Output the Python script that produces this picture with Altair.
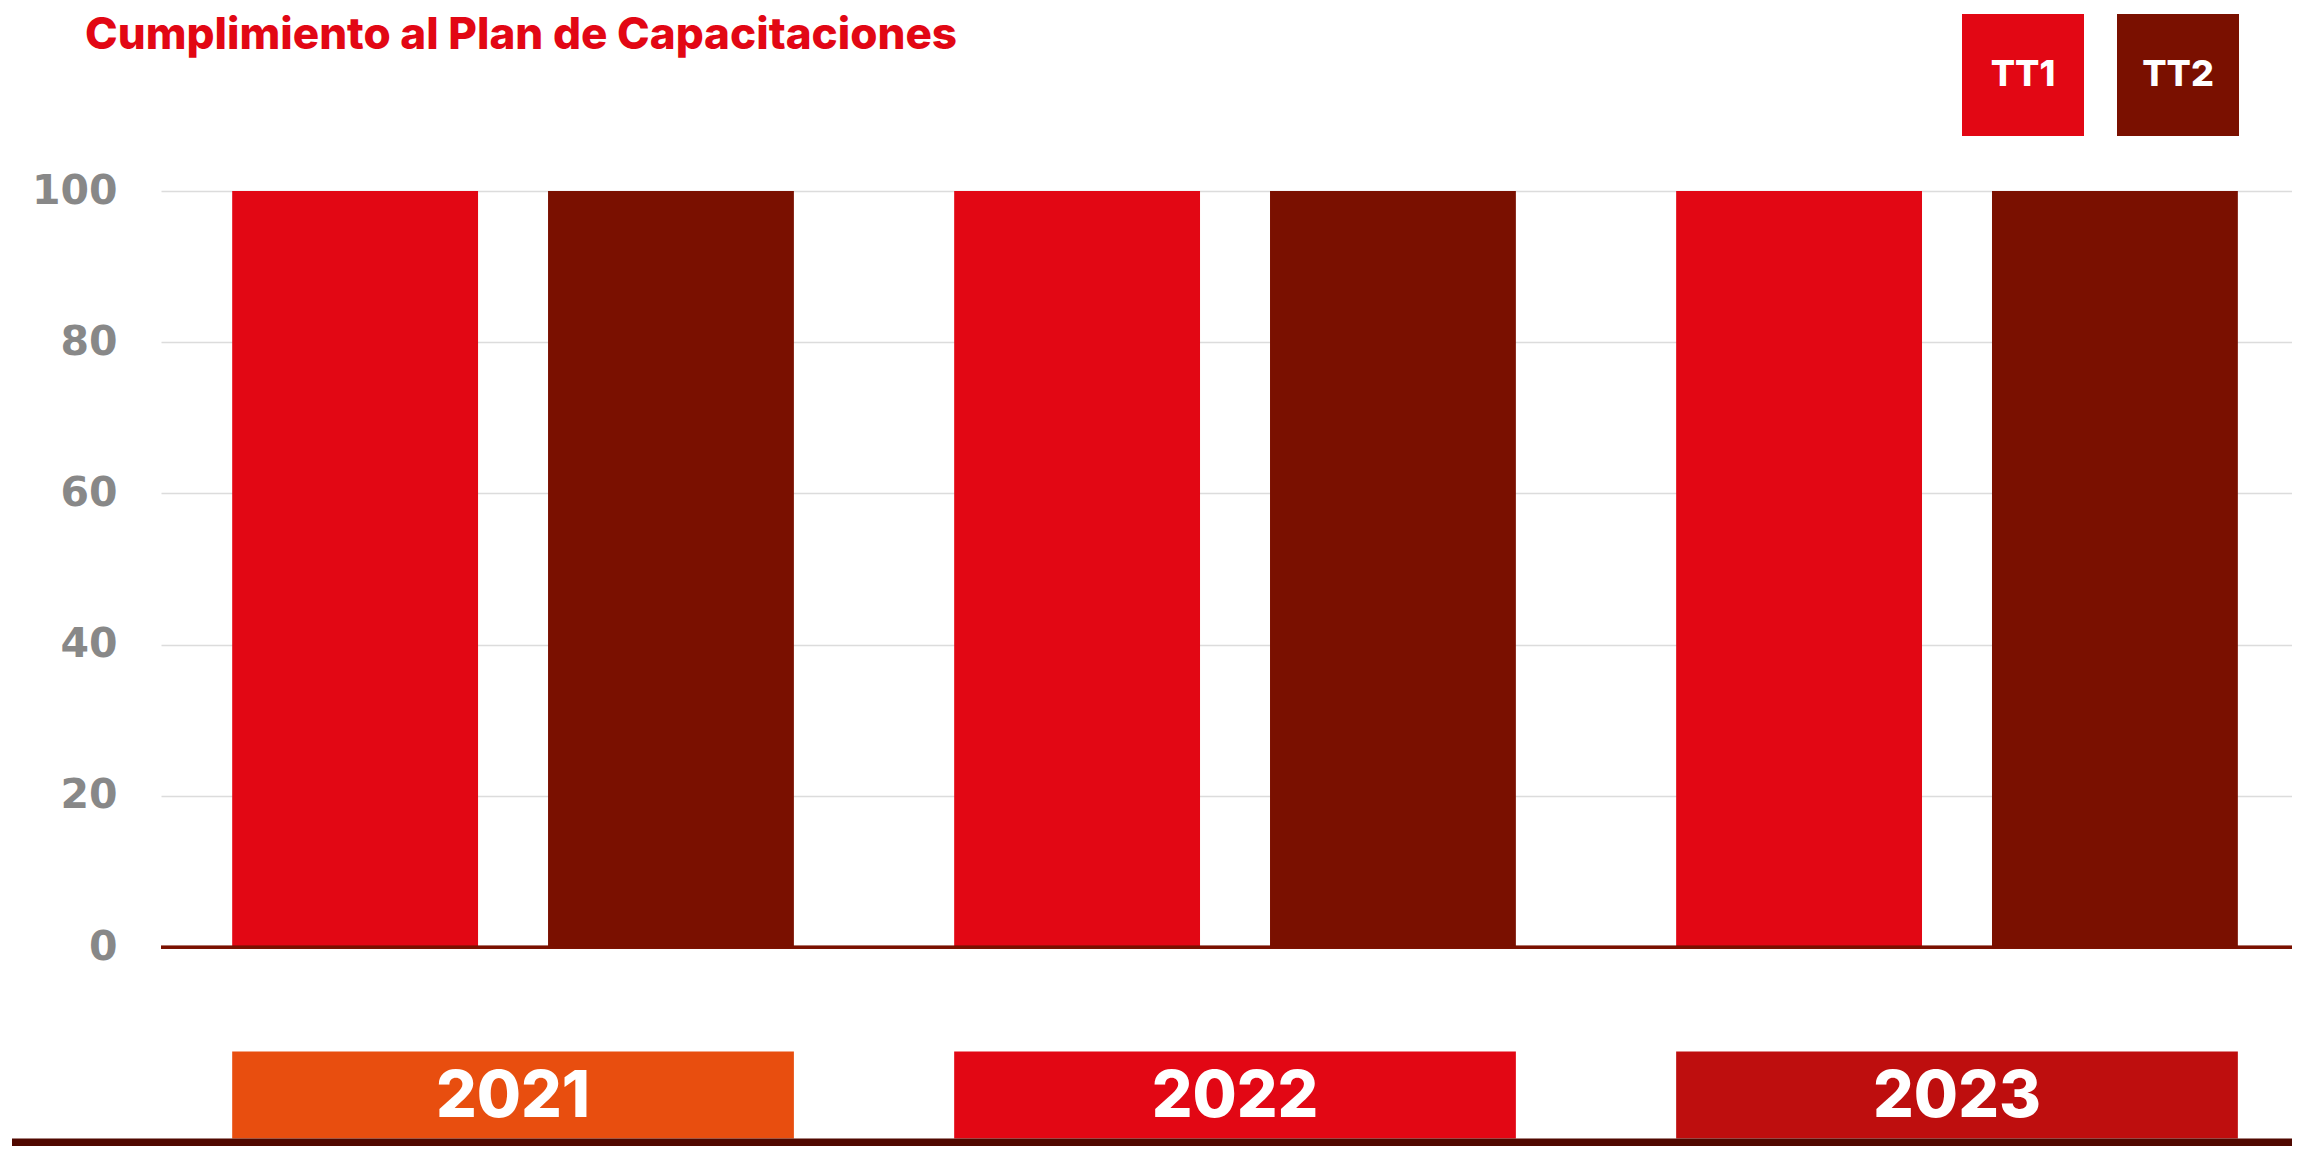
import altair as alt
import pandas as pd

# ---- data ----
years = ["2021", "2022", "2023"]
series = ["TT1", "TT2"]
tt1_values = [100, 100, 100]
tt2_values = [100, 100, 100]
series_colors = ["#e20714", "#7a1000"]
year_colors = ["#e84e0f", "#e20714", "#be0e0e"]
y_ticks = [0, 20, 40, 60, 80, 100]
title_text = "Cumplimiento al Plan de Capacitaciones"

rows = []
for i, y in enumerate(years):
    rows.append({"year": y, "series": "TT1", "value": tt1_values[i]})
    rows.append({"year": y, "series": "TT2", "value": tt2_values[i]})
bars_df = pd.DataFrame(rows)
years_df = pd.DataFrame({"year": years})

x_scale = alt.Scale(domain=years, paddingInner=0.222, paddingOuter=0.0868, align=0.568)
y_scale = alt.Scale(domain=[-26.3, 100], nice=False, zero=False)

bars = alt.Chart(bars_df).mark_bar().encode(
    x=alt.X("year:N", scale=x_scale, axis=None),
    xOffset=alt.XOffset("series:N", scale=alt.Scale(domain=series, paddingInner=0.2216, paddingOuter=0)),
    y=alt.Y("value:Q", scale=y_scale, axis=alt.Axis(
        values=y_ticks, grid=True, gridColor="#dcdcdc", gridWidth=1.5,
        domain=False, ticks=False, title=None,
        labelFont="DejaVu Sans", labelFontWeight="bold", labelFontSize=41,
        labelColor="#888888", labelPadding=44)),
    color=alt.Color("series:N", scale=alt.Scale(domain=series, range=series_colors),
        legend=alt.Legend(orient="none", legendX=1801, legendY=-177, direction="horizontal",
            title=None, symbolType="square", symbolSize=14884, symbolStrokeWidth=0,
            symbolOpacity=1, labelOffset={"expr": "-61"}, labelAlign="center", labelColor="white",
            labelFont="Inter", labelFontWeight=800, labelFontSize=36, columnPadding=33,
            padding=0, labelLimit=0)),
)

baseline = alt.Chart(years_df).mark_rule(color="#7a1000", strokeWidth=3).encode(
    y=alt.datum(0)
)

year_boxes = alt.Chart(years_df).mark_bar().encode(
    x=alt.X("year:N", scale=x_scale, axis=None),
    y=alt.datum(-13.8),
    y2=alt.datum(-25.3),
    fill=alt.Fill("year:N", scale=alt.Scale(domain=years, range=year_colors), legend=None),
)

year_text = alt.Chart(years_df).mark_text(
    color="white", font="Inter", fontWeight=800, fontSize=64, baseline="middle"
).encode(
    x=alt.X("year:N", scale=x_scale, axis=None),
    y=alt.datum(-19.9),
    text="year:N",
)

bottom_bar = alt.Chart(years_df.head(1)).mark_rect(color="#500800", clip=False).encode(
    x=alt.value(-149),
    x2=alt.value(2131),
    y=alt.datum(-25.3),
    y2=alt.datum(-26.3),
)

chart = alt.layer(year_boxes, year_text, bottom_bar, bars, baseline).properties(
    width=2131,
    height=955,
    padding={"left": 153, "top": 183, "right": 0, "bottom": 0},
    autosize=alt.AutoSizeParams(type="none"),
    title=alt.TitleParams(title_text, anchor="start", frame="group", dx=-76, dy=44, offset=0,
        font="Inter", fontWeight=800, fontSize=44, color="#e20714"),
).configure_view(strokeWidth=0).resolve_scale(color="independent")

chart.save("out.html", embed_options={"renderer": "svg", "actions": False})
